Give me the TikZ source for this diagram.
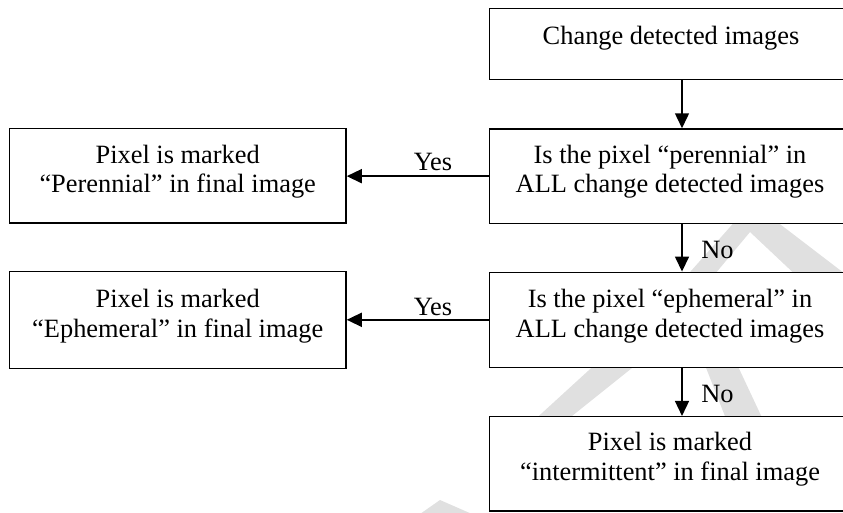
\documentclass[tikz,border=0pt]{standalone}
\usepackage{fontspec}
\setmainfont{Liberation Serif}
\usetikzlibrary{arrows.meta}
\begin{document}
\begin{tikzpicture}[x=1pt,y=-1pt,
  box/.style={draw=black, line width=1.5pt, fill=white, inner sep=0pt},
  txt/.style={font=\fontsize{26.4}{30.5}\selectfont, inner sep=0pt, anchor=base},
  arr/.style={line width=1.5pt, -{Triangle[length=15pt,width=14pt]}},
  wm/.style={fill=black!12, draw=none}]
\useasboundingbox (0,0) rectangle (843,512);
\clip (0,0) rectangle (843,512);
% faint watermark pieces
\fill[wm, even odd rule] (683,280) -- (738,218) -- (772,218) -- (853,280) -- cycle
  (710,280) -- (750,232) -- (801,280) -- cycle;
\fill[wm] (530,424) -- (562,424) -- (642,360) -- (600,360) -- cycle;
\fill[wm] (703,360) -- (735,360) -- (765,424) -- (728,424) -- cycle;
\fill[wm] (420,514) -- (440,500) -- (472,514) -- cycle;
% boxes
\node[box, minimum width=361.7pt, minimum height=70.6pt] (b1) at (670.15,44) {};
\node[box, minimum width=361.7pt, minimum height=94.3pt] (b2) at (670.15,176.15) {};
\node[box, minimum width=361.7pt, minimum height=95pt] (b3) at (670.15,319.8) {};
\node[box, minimum width=361.7pt, minimum height=94.3pt] (b4) at (670.15,463.85) {};
\node[box, minimum width=336.7pt, minimum height=94.7pt] (l1) at (177.65,175.65) {};
\node[box, minimum width=336.7pt, minimum height=96.6pt] (l2) at (177.65,320) {};
% texts
\node[txt] (t1) at (671,44) {Change detected images};
\node[txt] (t2a) at (670,163) {Is the pixel “perennial” in};
\node[txt] (t2b) at (670,192.5) {ALL change detected images};
\node[txt] (t3a) at (670,307) {Is the pixel “ephemeral” in};
\node[txt] (t3b) at (670,337) {ALL change detected images};
\node[txt] (t4a) at (670,450) {Pixel is marked};
\node[txt] (t4b) at (670,480) {“intermittent” in final image};
\node[txt] (t5a) at (177.7,163) {Pixel is marked};
\node[txt] (t5b) at (177.7,192.5) {“Perennial” in final image};
\node[txt] (t6a) at (177.7,307) {Pixel is marked};
\node[txt] (t6b) at (177.7,337) {“Ephemeral” in final image};
% connectors
\coordinate (ax) at (682,0);
\draw[arr] (b1.south -| ax) -- (b2.north -| ax);
\draw[arr] (b2.south -| ax) -- (b3.north -| ax);
\draw[arr] (b3.south -| ax) -- (b4.north -| ax);
\draw[arr] (b2.west) -- (b2.west -| l1.east);
\draw[arr] (b3.west) -- (b3.west -| l2.east);
% labels
\node[txt] (y1) at (433,170.5) {Yes};
\node[txt] (y2) at (433,315) {Yes};
\node[txt] (n1) at (717.5,258.5) {No};
\node[txt] (n2) at (717.5,402) {No};
\end{tikzpicture}
\end{document}
